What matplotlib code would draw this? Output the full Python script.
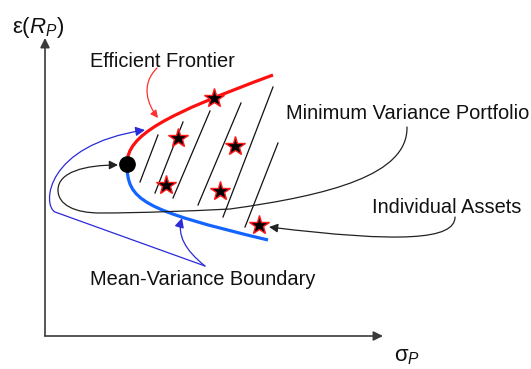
import matplotlib.pyplot as plt
from matplotlib.path import Path
from matplotlib.patches import PathPatch, FancyArrowPatch

plt.rcParams['font.family'] = ['Liberation Sans', 'DejaVu Sans']
plt.rcParams['mathtext.fontset'] = 'custom'
plt.rcParams['mathtext.rm'] = 'Liberation Sans'
plt.rcParams['mathtext.it'] = 'Liberation Sans:italic'

# diagram units: x grows with risk (sigma), y grows downward (canvas pixels)
origin = (45, 336)
y_axis_top = 38
x_axis_end = 383

# hyperbola branches as cubic bezier control points (start = minimum variance point)
efficient_frontier = [(127, 164), (127, 135), (165, 115), (273, 75)]
lower_boundary = [(127, 164), (127, 200), (142, 210), (268, 240)]
mvp = (127, 164)

# hatching inside the feasible set
hatch_top_x = [158, 183, 210, 241, 273, 278]
hatch_top_y = [135, 122, 111, 103, 87, 143]
hatch_bot_x = [140, 155, 173, 198, 223, 245]
hatch_bot_y = [182, 193, 198, 205, 217, 227]

# individual assets
asset_x = [214, 178, 235, 166, 220, 259]
asset_y = [98, 138, 146, 185, 191, 225]

labels = ['Efficient Frontier', 'Minimum Variance Portfolio',
          'Individual Assets', 'Mean-Variance Boundary']
label_x = [90, 286, 372, 90]
label_y = [67, 119, 213, 285]

# callout curves: (vertices, codes)
M, L, C = Path.MOVETO, Path.LINETO, Path.CURVE4
callout_ef = ([(157, 68), (140, 85), (148, 105), (158, 118)], [M, C, C, C])
callout_mvp = ([(407, 127), (408, 175), (330, 195), (230, 209),
                (190, 211), (140, 213), (100, 213),
                (75, 213), (58, 205), (58, 190),
                (58, 172), (85, 165), (118, 165)],
               [M, C, C, C, C, C, C, C, C, C, C, C, C])
callout_assets = ([(455, 217), (455, 240), (400, 243), (269, 227)], [M, C, C, C])
callout_mvb_low = ([(205, 266), (185, 250), (177, 235), (182, 218)], [M, C, C, C])
callout_mvb_up = ([(205, 266), (55, 212), (42, 205), (45, 145), (145, 130)],
                  [M, L, C, C, C])

fig = plt.figure(figsize=(5.31, 3.69), dpi=100)
ax = fig.add_axes([0, 0, 1, 1])
ax.set_xlim(0, 531)
ax.set_ylim(369, 0)
ax.axis('off')

# axes of the diagram
axis_color = '#3a3a3a'
ax.add_patch(FancyArrowPatch(origin, (origin[0], y_axis_top), arrowstyle='-|>',
                             mutation_scale=14, shrinkA=0, shrinkB=0,
                             color=axis_color, lw=1.2))
ax.add_patch(FancyArrowPatch(origin, (x_axis_end, origin[1]), arrowstyle='-|>',
                             mutation_scale=14, shrinkA=0, shrinkB=0,
                             color=axis_color, lw=1.2))
ax.text(12, 33, r'$\mathrm{\varepsilon}(R_P)$', fontsize=16, color='#111111')
ax.text(394, 361, r'$\mathrm{\sigma}_P$', fontsize=16, color='#111111')

# hatching
for x0, y0, x1, y1 in zip(hatch_top_x, hatch_top_y, hatch_bot_x, hatch_bot_y):
    ax.plot([x0, x1], [y0, y1], color='#111111', lw=0.9)

# frontier branches
bez = [Path.MOVETO, Path.CURVE4, Path.CURVE4, Path.CURVE4]
ax.add_patch(PathPatch(Path(efficient_frontier, bez), fill=False,
                       edgecolor='#ff1010', lw=2.3, capstyle='butt'))
ax.add_patch(PathPatch(Path(lower_boundary, bez), fill=False,
                       edgecolor='#1464ff', lw=2.3, capstyle='butt'))

ax.plot(asset_x, asset_y, linestyle='none', marker='*', markersize=15,
        markerfacecolor='black', markeredgecolor='#ff1a1a', markeredgewidth=1.0)
ax.plot(*mvp, marker='o', markersize=11, color='black')

# callouts
def callout(spec, color, lw, scale):
    verts, codes = spec
    ax.add_patch(FancyArrowPatch(path=Path(verts, codes), arrowstyle='-|>',
                                 mutation_scale=scale, color=color, lw=lw))

callout(callout_ef, '#ff3030', 0.9, 11)
callout(callout_mvp, '#222222', 0.9, 13)
callout(callout_assets, '#222222', 0.9, 13)
callout(callout_mvb_low, '#2a2ad8', 0.9, 14)
callout(callout_mvb_up, '#2a2ad8', 0.9, 14)

for text, x, y in zip(labels, label_x, label_y):
    ax.text(x, y, text, fontsize=14.4, color='#111111', va='baseline')

fig.savefig('out.png', dpi=100)
